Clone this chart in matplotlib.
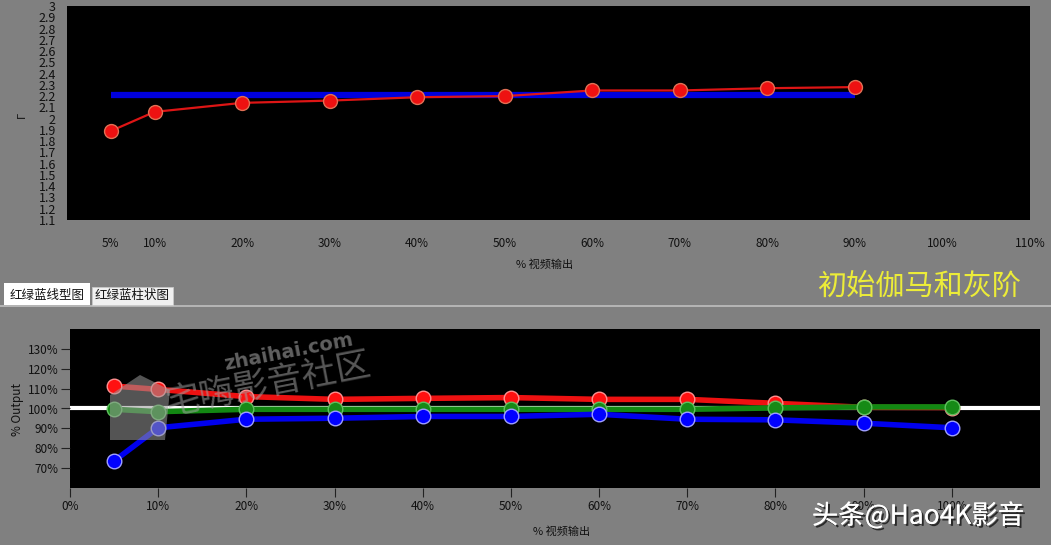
import matplotlib
matplotlib.use("Agg")
import matplotlib.pyplot as plt
from matplotlib.patches import Rectangle, Polygon
import matplotlib.patheffects as pe

plt.rcParams['font.family'] = ['Noto Sans CJK SC', 'DejaVu Sans']

# ---- data ----
gamma_x = [5, 10, 20, 30, 40, 50, 60, 70, 80, 90]
gamma_vals = [1.89, 2.06, 2.14, 2.16, 2.19, 2.20, 2.25, 2.25, 2.27, 2.28]
target_x = [5, 90]
target_gamma = [2.21, 2.21]
gamma_yticks = [round(1.1 + 0.1 * i, 1) for i in range(20)]
gamma_xticks = [5, 10, 20, 30, 40, 50, 60, 70, 80, 90, 100, 110]

rgb_x = [5, 10, 20, 30, 40, 50, 60, 70, 80, 90, 100]
red_vals = [111.3, 109.6, 106.0, 104.6, 105.1, 105.5, 104.6, 104.6, 102.6, 100.6, 100.5]
green_vals = [99.6, 98.4, 99.6, 99.6, 99.6, 99.6, 99.6, 99.6, 100.3, 100.8, 100.8]
blue_vals = [73.6, 90.3, 94.6, 95.1, 96.0, 96.0, 97.1, 94.6, 94.3, 92.6, 90.3]
ref_x = [0, 110]
ref_vals = [100, 100]
rgb_yticks = [70, 80, 90, 100, 110, 120, 130]
rgb_xticks = [0, 10, 20, 30, 40, 50, 60, 70, 80, 90, 100]

W, H = 1051, 545
BG = '#808080'
fig = plt.figure(figsize=(W / 100, H / 100), dpi=100, facecolor=BG)


def fx(px):
    return px / W


def fy(py):
    return 1 - py / H


# ---- top gamma chart ----
ax1 = fig.add_axes([fx(67), fy(220), fx(1030) - fx(67), fy(6) - fy(220)])
ax1.set_facecolor('black')
for s in ax1.spines.values():
    s.set_visible(False)
ax1.plot(target_x, target_gamma, color='#0000dd', lw=4.5, solid_capstyle='butt', zorder=2)
ax1.plot(gamma_x, gamma_vals, color='#dd1515', lw=1.6, marker='o', ms=10,
         mfc='#ee1111', mec='#e07055', mew=1, zorder=3)
ax1.set_xlim(0, 110)
ax1.set_ylim(1.1, 3.0)
ax1.set_yticks(gamma_yticks)
ax1.set_yticklabels([f"{v:g}" for v in gamma_yticks], fontsize=9, color='#111111')
ax1.set_xticks(gamma_xticks)
ax1.set_xticklabels([f"{v}%" for v in gamma_xticks], fontsize=8.5, color='#111111')
ax1.tick_params(axis='y', length=0, pad=8)
ax1.tick_params(axis='x', length=0, pad=12)
fig.text(fx(22), fy(115), 'Γ', rotation=90, fontsize=8, ha='center', va='center', color='#111111')
fig.text(fx(545), fy(265), '% 视频输出', fontsize=8, ha='center', va='center', color='#111111')

# ---- tabs / separators ----
fig.patches.append(Rectangle((0, fy(307)), 1, fy(305) - fy(307), transform=fig.transFigure,
                             facecolor='#b4b4b4', edgecolor='none', zorder=0))
fig.patches.append(Rectangle((fx(4), fy(305)), fx(90) - fx(4), fy(283) - fy(305),
                             transform=fig.transFigure, facecolor='#ffffff', edgecolor='none', zorder=1))
fig.patches.append(Rectangle((fx(92), fy(305)), fx(173) - fx(92), fy(287) - fy(305),
                             transform=fig.transFigure, facecolor='#f0f0f0', edgecolor='#c8c8c8',
                             lw=0.6, zorder=1))
fig.text(fx(47), fy(295), '红绿蓝线型图', fontsize=9, ha='center', va='center', color='#111111')
fig.text(fx(132), fy(296), '红绿蓝柱状图', fontsize=9, ha='center', va='center', color='#111111')
fig.text(fx(919), fy(287), '初始伽马和灰阶', fontsize=21, ha='center', va='center', color='#ecec38')

# ---- bottom RGB chart ----
ax2 = fig.add_axes([fx(70), fy(488), fx(1040) - fx(70), fy(329) - fy(488)])
ax2.set_facecolor('black')
for s in ax2.spines.values():
    s.set_visible(False)
ax2.plot(ref_x, ref_vals, color='white', lw=3, zorder=1)
ax2.plot(rgb_x, red_vals, color='#ee1111', lw=4, marker='o', ms=10.5,
         mfc='#ff1010', mec='#ff9090', mew=1, zorder=2)
ax2.plot(rgb_x, green_vals, color='#128812', lw=4, marker='o', ms=10.5,
         mfc='#168a16', mec='#60c060', mew=1, zorder=3)
ax2.plot(rgb_x, blue_vals, color='#0000ee', lw=4, marker='o', ms=10.5,
         mfc='#0000ff', mec='#a0a0ff', mew=1, zorder=4)
ax2.set_xlim(0, 110)
ax2.set_ylim(60, 140)
ax2.set_yticks(rgb_yticks)
ax2.set_yticklabels([f"{v}%" for v in rgb_yticks], fontsize=8.5, color='#111111')
ax2.set_xticks(rgb_xticks)
ax2.set_xticklabels([f"{v}%" for v in rgb_xticks], fontsize=8.5, color='#111111')
ax2.tick_params(axis='both', length=6.5, width=0.8, color='#222222', pad=2, direction='out')
fig.text(fx(18), fy(410), '% Output', rotation=90, fontsize=8.5, ha='center', va='center', color='#111111')
fig.text(fx(562), fy(532), '% 视频输出', fontsize=8, ha='center', va='center', color='#111111',
         style='italic')

# ---- watermarks ----
house = [(fx(x), fy(y)) for x, y in [(110, 440), (110, 395), (140, 375), (170, 390),
                                     (165, 440)]]
fig.patches.append(Polygon(house, closed=True, transform=fig.transFigure,
                           facecolor='#9a9a9a', edgecolor='none', alpha=0.55, zorder=5))
fig.text(fx(288), fy(352), 'zhaihai.com', fontsize=14, rotation=11, ha='center', va='center',
         color='#a0a0a0', alpha=0.6, fontweight='bold', family=['DejaVu Sans'])
fig.text(fx(268), fy(385), '宅嗨影音社区', fontsize=25, rotation=11, ha='center', va='center',
         color='#a0a0a0', alpha=0.55)
fig.text(fx(918), fy(516), '头条@Hao4K影音', fontsize=19, ha='center', va='center', color='white',
         path_effects=[pe.withSimplePatchShadow(offset=(1.5, -1.5), shadow_rgbFace='#202020', alpha=0.9),
                       pe.Normal()])

fig.savefig('out.png', dpi=100, facecolor=BG)
